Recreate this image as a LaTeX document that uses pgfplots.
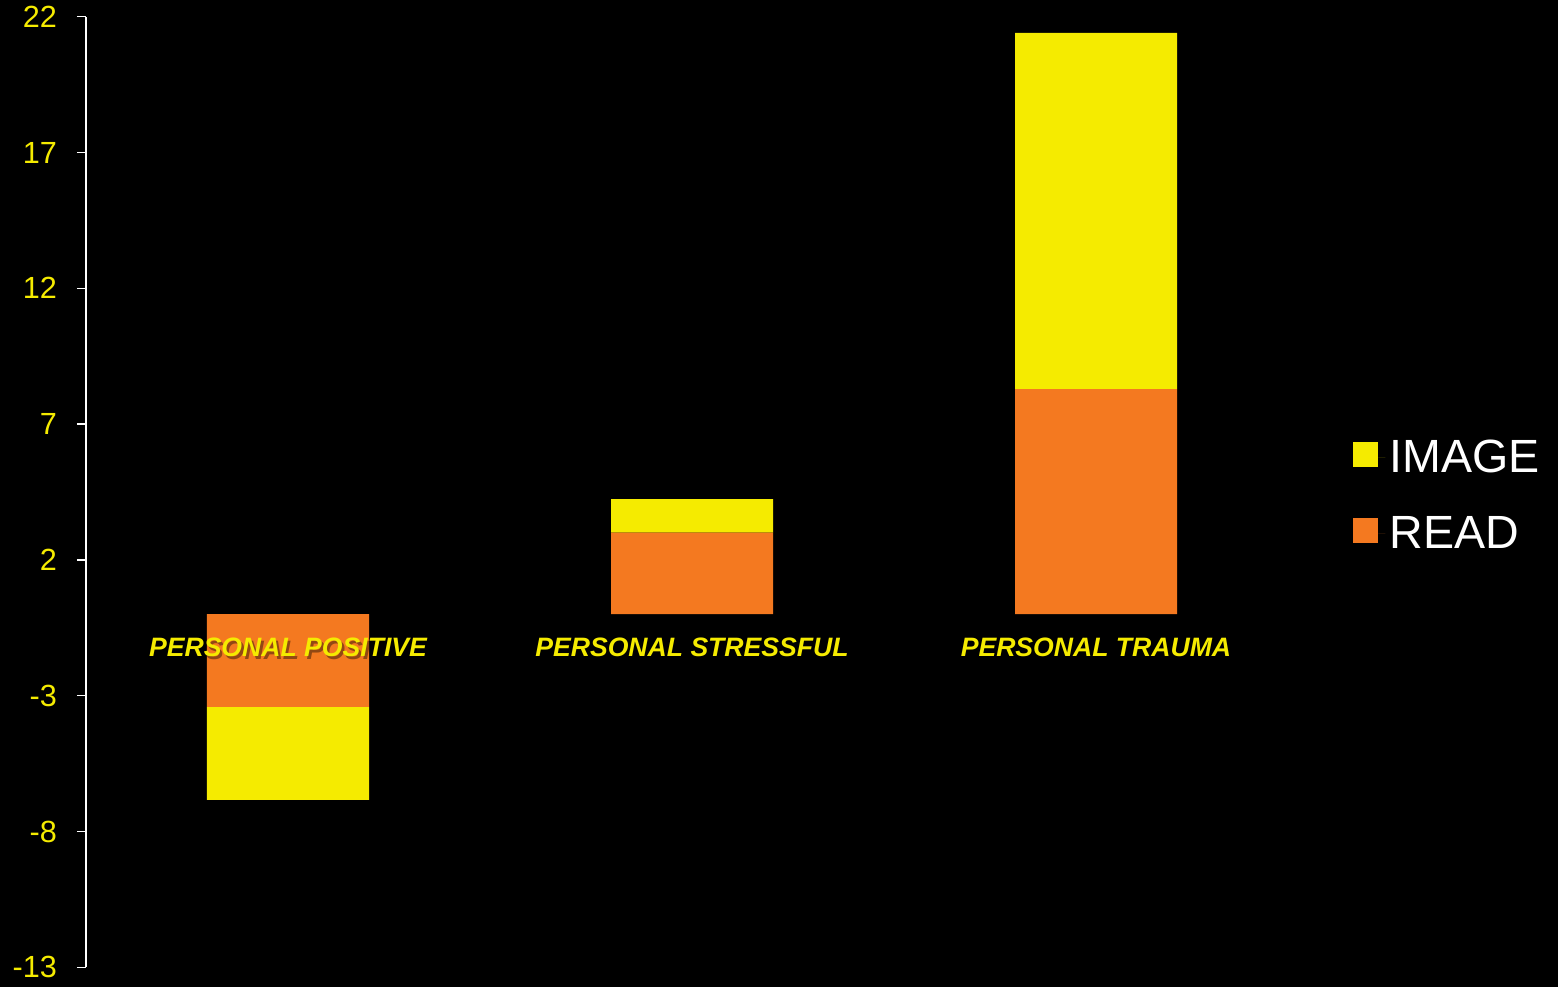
\documentclass[border=0pt]{standalone}
\usepackage{pgfplots}
\pgfplotsset{compat=1.18}
\usepackage{fontspec}
\setmainfont{Liberation Sans}
\definecolor{cyel}{RGB}{245,235,0}
\definecolor{corg}{RGB}{244,121,32}
\newcommand\shadowed[1]{\rlap{\hspace{1.2pt}\raisebox{-1.2pt}{\pgfsetfillopacity{0.4}\textcolor{black}{#1}\pgfsetfillopacity{1}}}#1}
\begin{document}
\begin{tikzpicture}
\fill[black, overlay] (-46pt,-12pt) rectangle (739pt,487pt);
\useasboundingbox (-43pt,-9.35pt) rectangle (736pt,483.65pt);
\begin{axis}[
  at={(0,0)}, anchor=south west,
  scale only axis, width=606pt, height=475.3pt,
  xmin=-0.5, xmax=2.5, ymin=-13, ymax=22,
  ybar stacked, bar width=81pt,
  axis on top,
  axis y line=left, axis x line=middle,
  axis line style={-},
  y axis line style={white, line width=0.7pt},
  x axis line style={draw=none},
  hide obscured x ticks=false,
  xtick={0,1,2},
  xticklabels={\shadowed{PERSONAL POSITIVE},\shadowed{PERSONAL STRESSFUL},\shadowed{PERSONAL TRAUMA}},
  xtick style={draw=none},
  xticklabel style={anchor=center, yshift=-12.8pt, text=cyel, font=\fontsize{13.3}{14}\selectfont\bfseries\itshape},
  ytick={-13,-8,-3,2,7,12,17,22},
  yticklabels={-13,-8,-3,2,7,12,17,22},
  ytick style={white, line width=0.7pt},
  tick align=outside, major tick length=4.5pt,
  yticklabel style={text=cyel, xshift=-6.5pt, font=\fontsize{15.3}{16}\selectfont},
  legend style={at={(1.0454,0.496)}, anchor=west, draw=none, fill=black, text=white,
    font=\fontsize{23.3}{25}\selectfont, inner xsep=0pt, inner ysep=0pt,
    row sep=16.3pt, nodes={inner sep=2pt}},
  legend cell align=left,
  reverse legend,
  legend image code/.code={\fill[#1] (0pt,-4.5pt) rectangle (12.5pt,8pt);\path (12.5pt,0pt) -- (16pt,0pt);},
]
\addplot[fill=corg, draw=none] coordinates {(0,-3.41) (1,3.00) (2,8.29)};
\addlegendentry{READ}
\addplot[fill=cyel, draw=none] coordinates {(0,-3.43) (1,1.24) (2,13.11)};
\addlegendentry{IMAGE}
\fill[black] ([xshift=-1.5pt]axis cs:-0.5,0) rectangle ([xshift=1.5pt,yshift=-4.5pt]axis cs:-0.5,0);
\end{axis}
\end{tikzpicture}
\end{document}
